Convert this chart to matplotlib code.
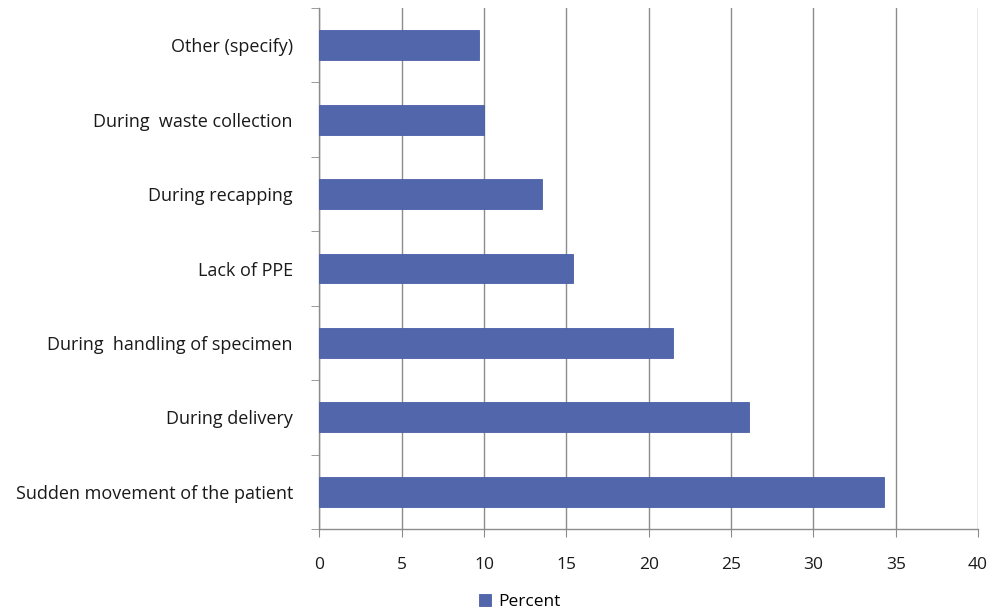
import matplotlib.pyplot as plt
import numpy as np

plt.rcParams['font.family'] = ['Open Sans', 'DejaVu Sans']

# Datos (de abajo hacia arriba)
causes = ['Sudden movement of the patient', 'During delivery', 'During  handling of specimen',
          'Lack of PPE', 'During recapping', 'During  waste collection', 'Other (specify)']
percent = [34.3, 26.1, 21.5, 15.4, 13.5, 10.0, 9.7]

bar_color = '#5266AC'
grid_color = '#8C8C8C'

fig = plt.figure(figsize=(9.9, 6.12), dpi=100)
ax = fig.add_axes([0.3225, 0.1356, 0.6655, 0.8513])

y = np.arange(len(causes))
ax.barh(y, percent, height=0.4, color=bar_color, edgecolor='#4A5FA6', linewidth=0.6,
        label='Percent', zorder=3)

ax.set_xlim(0, 40)
ax.set_ylim(-0.5, len(causes) - 0.5)
ax.set_xticks(np.arange(0, 41, 5))
ax.xaxis.grid(True, color=grid_color, linewidth=1.0, zorder=0)

# Ticks de categorías en los límites
ax.set_yticks(y)
ax.set_yticklabels(causes, fontsize=13, color='#1a1a1a')
ax.set_yticks(np.arange(-0.5, len(causes)), minor=True)
ax.tick_params(axis='y', which='major', length=0, pad=19)
ax.tick_params(axis='y', which='minor', length=6, color=grid_color, direction='out')
ax.tick_params(axis='x', length=6, color=grid_color, labelsize=12.5, pad=14, labelcolor='#1a1a1a')

for side in ['top', 'right']:
    ax.spines[side].set_visible(False)
for side in ['left', 'bottom']:
    ax.spines[side].set_color(grid_color)
    ax.spines[side].set_linewidth(1.0)

fig.legend(loc='lower center', bbox_to_anchor=(0.525, -0.022), frameon=False, fontsize=12.5,
           handlelength=0.7, handleheight=0.7, handletextpad=0.4)

plt.savefig('out.png', dpi=100)
